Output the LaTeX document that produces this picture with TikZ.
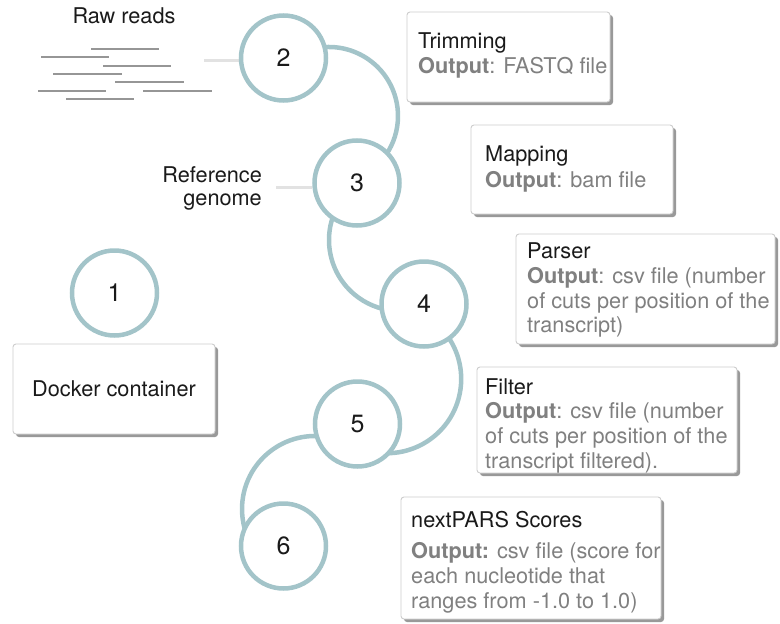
\documentclass[tikz,border=0pt]{standalone}
\usepackage{fontspec}
\setmainfont{TeX Gyre Heros}
\usetikzlibrary{shadows,backgrounds}
\definecolor{ring}{RGB}{163,196,201}
\definecolor{labelgray}{RGB}{128,128,128}
\definecolor{ink}{RGB}{26,26,26}
\definecolor{readgray}{RGB}{150,150,150}
\definecolor{feedgray}{RGB}{226,226,226}
\definecolor{boxline}{RGB}{205,205,205}
\begin{document}
\begin{tikzpicture}[x=1pt,y=-1pt,
  stage/.style={circle,draw=ring,line width=4.5pt,fill=white,minimum size=85pt,
    inner sep=0pt,font=\fontsize{25}{30}\selectfont,text=ink},
  link/.style={draw=ring,line width=4.5pt},
  card/.style={draw=boxline,line width=0.9pt,fill=white,rounded corners=3pt,inner sep=0pt,
    drop shadow={shadow xshift=3pt,shadow yshift=-3pt,fill=black!40,opacity=1}},
  title/.style={anchor=base west,inner sep=0pt,font=\fontsize{21.7}{25}\selectfont,text=ink},
  detail/.style={anchor=base west,inner sep=0pt,font=\fontsize{21.7}{25}\selectfont,text=labelgray},
  plain/.style={inner sep=0pt,font=\fontsize{21.7}{25}\selectfont,text=ink},
  read/.style={draw=readgray,line width=2pt},
  feed/.style={draw=feedgray,line width=3pt}
]
\useasboundingbox (0,0) rectangle (780,624);

% pipeline stages
\node[stage] (c1) at (114.5,293) {1};
\node[stage] (c2) at (283.5,58) {2};
\node[stage] (c3) at (357,183) {3};
\node[stage] (c4) at (424,304) {4};
\node[stage] (c5) at (357.5,424) {5};
\node[stage] (c6) at (283.5,546) {6};

% centres of the arcs joining consecutive stages
\coordinate (o23) at (329,116);
\coordinate (o34) at (400,240);
\coordinate (o45) at (387,379);
\coordinate (o56) at (315,509);

% loose ends of the input feeds
\coordinate (rawend) at (204,60);
\coordinate (refend) at (276,187);

\begin{pgfonlayer}{background}
  \draw[link] ([shift={(-105:69)}]o23) arc[start angle=-105,end angle=50,radius=69];
  \draw[link] ([shift={(220:71)}]o34) arc[start angle=220,end angle=95,radius=71];
  \draw[link] ([shift={(-40:74.2)}]o45) arc[start angle=-40,end angle=95,radius=74.2];
  \draw[link] ([shift={(-80:73)}]o56) arc[start angle=-80,end angle=-205,radius=73];
  \draw[feed] (rawend) -- (rawend -| c2.west);
  \draw[feed] (refend) -- (refend -| c3.west);
\end{pgfonlayer}

% raw reads
\draw[read] (91,49) -- (159,49);
\draw[read] (41,57) -- (109,57);
\draw[read] (103,66) -- (171,66);
\draw[read] (53,74) -- (122,74);
\draw[read] (115,82) -- (184,82);
\draw[read] (38,91) -- (106,91);
\draw[read] (143,91) -- (212,91);
\draw[read] (66,99) -- (134,99);

\node[plain,anchor=base] (rawlabel) at (124,23) {Raw reads};
\node[plain,anchor=base east] (reflabela) at (262,182) {Reference};
\node[plain,anchor=base east] (reflabelb) at (262,205) {genome};

% docker container
\node[card,minimum width=202pt,minimum height=90pt] (docker) at (114,389) {};
\node[plain] (dockertext) at (docker) {Docker container};

% step cards
\node[card,minimum width=203pt,minimum height=90pt] (trim) at (508.5,57) {};
\node[title] (trimt) at (418,48) {Trimming};
\node[detail] (trimd) at (418,73) {\textbf{Output}: FASTQ file};

\node[card,minimum width=202pt,minimum height=89pt] (map) at (572,169.5) {};
\node[title] (mapt) at (485,161) {Mapping};
\node[detail] (mapd) at (485,187) {\textbf{Output}: bam file};

\node[card,minimum width=259pt,minimum height=110pt] (parse) at (645.5,289) {};
\node[title] (parset) at (527,258) {Parser};
\node[detail] (parsea) at (527,283) {\textbf{Output}: csv file (number};
\node[detail] (parseb) at (527,308) {of cuts per position of the};
\node[detail] (parsec) at (527,332) {transcript)};

\node[card,minimum width=260pt,minimum height=106pt] (filt) at (607,420) {};
\node[title] (filtt) at (485,394) {Filter};
\node[detail] (filta) at (485,418) {\textbf{Output}: csv file (number};
\node[detail] (filtb) at (485,443) {of cuts per position of the};
\node[detail] (filtc) at (485,468) {transcript filtered).};

\node[card,minimum width=260pt,minimum height=122pt] (score) at (531,558) {};
\node[title] (scoret) at (411,527) {nextPARS Scores};
\node[detail] (scorea) at (411,558) {\textbf{Output:} csv file (score for};
\node[detail] (scoreb) at (411,583) {each nucleotide that};
\node[detail] (scorec) at (411,608) {ranges from -1.0 to 1.0)};
\end{tikzpicture}
\end{document}
